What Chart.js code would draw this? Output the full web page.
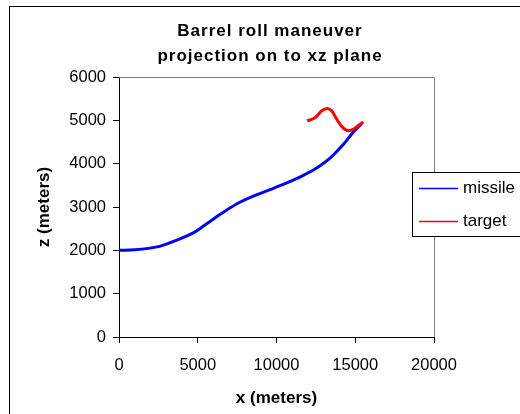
<!DOCTYPE html>
<html>
<head>
<meta charset="utf-8">
<script src="https://cdn.jsdelivr.net/npm/chart.js@4/dist/chart.umd.min.js"></script>
<style>
  body { margin: 0; background: #fff; }
  canvas { display: block; }
</style>
</head>
<body>
<canvas id="grafico" width="520" height="414"></canvas>
<script>
// dados (x e z em metros)
const missileX = [0, 1000, 1860, 2500, 3130, 3980, 4825, 5500, 6500, 7470, 8530, 9590, 10650, 11700, 12550, 13400, 14240, 14880, 15400];
const missileZ = [2000, 2015, 2045, 2085, 2160, 2280, 2425, 2595, 2850, 3070, 3250, 3400, 3555, 3730, 3900, 4130, 4440, 4730, 4920];
const targetX = [11950, 12450, 12870, 13220, 13500, 13820, 14140, 14560, 14880, 15190, 15510];
const targetZ = [4990, 5060, 5220, 5275, 5220, 5030, 4860, 4760, 4790, 4880, 4960];
const seriesNames = ['missile', 'target'];
const titleLines = ['Barrel roll maneuver', 'projection on to xz plane'];

const fonte = "'Liberation Sans', Arial, sans-serif";

function pontos(xs, zs) {
    return xs.map((x, i) => ({ x: x, y: zs[i] }));
}

// titulo, legenda e bordas desenhados a mao
const extras = {
    id: 'extras',
    afterDraw(chart) {
        const ctx = chart.ctx;
        const area = chart.chartArea;
        ctx.save();

        // borda externa
        ctx.strokeStyle = '#000';
        ctx.lineWidth = 1;
        ctx.strokeRect(9.5, 6.5, 530, 420);

        // borda cinza do plot (topo e direita)
        ctx.strokeStyle = '#808080';
        ctx.beginPath();
        ctx.moveTo(Math.round(area.left) + 0.5, Math.round(area.top) + 0.5);
        ctx.lineTo(Math.round(area.right) + 0.5, Math.round(area.top) + 0.5);
        ctx.lineTo(Math.round(area.right) + 0.5, Math.round(area.bottom));
        ctx.stroke();

        // titulo
        ctx.fillStyle = '#000';
        ctx.font = 'bold 17px ' + fonte;
        ctx.textAlign = 'center';
        ctx.textBaseline = 'middle';
        ctx.letterSpacing = '1px';
        ctx.fillText(titleLines[0], 270, 31);
        ctx.fillText(titleLines[1], 270, 56);
        ctx.letterSpacing = '0px';

        // legenda
        ctx.fillStyle = '#fff';
        ctx.fillRect(412.5, 172.5, 120, 64);
        ctx.strokeStyle = '#000';
        ctx.strokeRect(412.5, 172.5, 120, 64);
        ctx.font = '17px ' + fonte;
        ctx.textAlign = 'left';
        chart.data.datasets.forEach((ds, i) => {
            const y = 188.5 + i * 33;
            ctx.strokeStyle = ds.borderColor;
            ctx.lineWidth = 1.5;
            ctx.beginPath();
            ctx.moveTo(419, y);
            ctx.lineTo(458, y);
            ctx.stroke();
            ctx.fillStyle = '#000';
            ctx.fillText(ds.label, 463, y);
        });
        ctx.restore();
    }
};

new Chart(document.getElementById('grafico'), {
    type: 'scatter',
    data: {
        datasets: [{
            label: seriesNames[0],
            data: pontos(missileX, missileZ),
            borderColor: '#0000ff',
            showLine: true,
            borderWidth: 3,
            pointRadius: 0,
            cubicInterpolationMode: 'monotone',
            order: 1
        }, {
            label: seriesNames[1],
            data: pontos(targetX, targetZ),
            borderColor: '#ff0000',
            showLine: true,
            borderWidth: 3,
            pointRadius: 0,
            cubicInterpolationMode: 'monotone',
            order: 0
        }]
    },
    options: {
        responsive: false,
        animation: false,
        layout: { padding: { left: 10, right: 86, top: 77, bottom: 0 } },
        plugins: {
            legend: { display: false },
            title: { display: false },
            tooltip: { enabled: false }
        },
        scales: {
            x: {
                type: 'linear',
                min: 0,
                max: 20000,
                afterFit: (scale) => { scale.height = 77; },
                ticks: {
                    stepSize: 5000,
                    color: '#000',
                    padding: 13,
                    maxRotation: 0,
                    font: { family: fonte, size: 16.5 },
                    callback: (v) => String(v)
                },
                grid: { drawOnChartArea: false, drawTicks: true, tickLength: 6, color: '#000' },
                border: { color: '#000', width: 1 },
                title: {
                    display: true,
                    text: 'x (meters)',
                    color: '#000',
                    padding: { top: 0, bottom: 5 },
                    font: { family: fonte, size: 17, weight: 'bold' }
                }
            },
            y: {
                type: 'linear',
                min: 0,
                max: 6000,
                afterFit: (scale) => { scale.width = 109; },
                ticks: {
                    stepSize: 1000,
                    color: '#000',
                    padding: 7,
                    font: { family: fonte, size: 16.5 },
                    callback: (v) => String(v)
                },
                grid: { drawOnChartArea: false, drawTicks: true, tickLength: 6, color: '#000' },
                border: { color: '#000', width: 1 },
                title: {
                    display: true,
                    text: 'z (meters)',
                    color: '#000',
                    padding: { top: 24, bottom: 0 },
                    font: { family: fonte, size: 17, weight: 'bold' }
                }
            }
        }
    },
    plugins: [extras]
});
</script>
</body>
</html>
